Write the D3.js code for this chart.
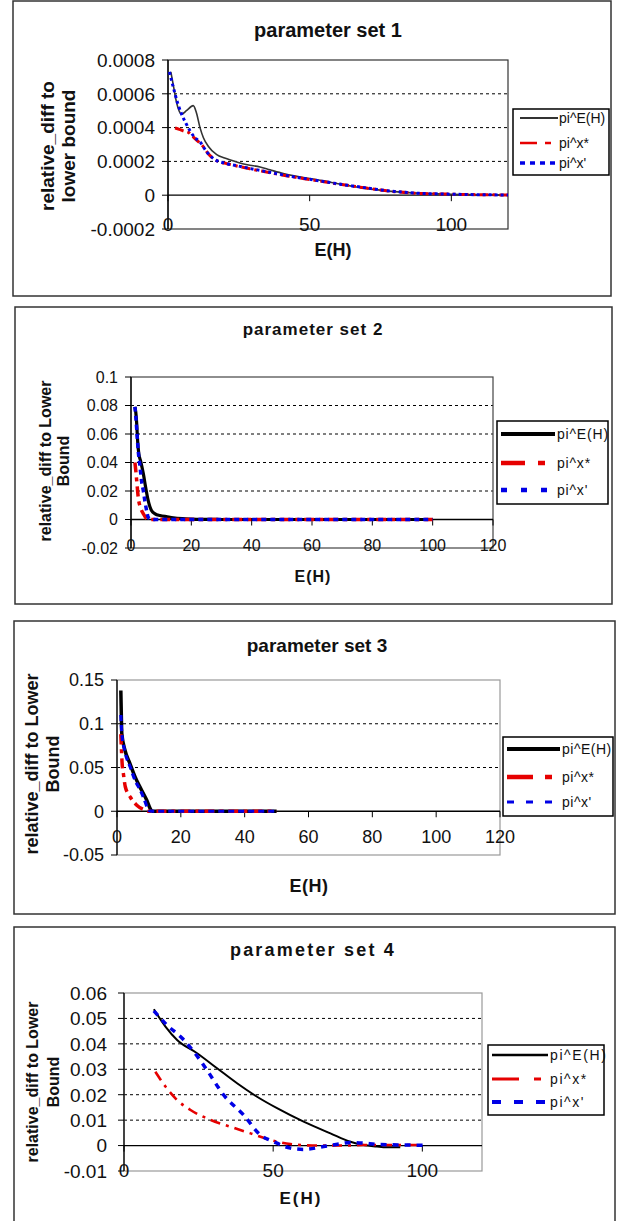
<!DOCTYPE html>
<html><head><meta charset="utf-8">
<script src="https://cdn.jsdelivr.net/npm/d3@7"></script>
<style>
body{margin:0;background:#fff}
svg{display:block}
text{font-family:"Liberation Sans",Arial,sans-serif;fill:#111}
</style>
</head><body>
<svg id="c" width="621" height="1221"></svg>
<script>
// ---------- DATA ----------
const seriesNames = ["pi^E(H)", "pi^x*", "pi^x'"];
const titles = ["parameter set 1", "parameter set 2", "parameter set 3", "parameter set 4"];
const yLabels = [
  ["relative_diff to", "lower bound"],
  ["relative_diff to Lower", "Bound"],
  ["relative_diff to Lower", "Bound"],
  ["relative_diff to Lower", "Bound"]
];
const xLabel = "E(H)";

const p1YTicks = [-0.0002, 0, 0.0002, 0.0004, 0.0006, 0.0008];
const p1YTickLabels = ["-0.0002", "0", "0.0002", "0.0004", "0.0006", "0.0008"];
const p1XTicks = [0, 50, 100];
const p2YTicks = [-0.02, 0, 0.02, 0.04, 0.06, 0.08, 0.1];
const p2YTickLabels = ["-0.02", "0", "0.02", "0.04", "0.06", "0.08", "0.1"];
const p2XTicks = [0, 20, 40, 60, 80, 100, 120];
const p3YTicks = [-0.05, 0, 0.05, 0.1, 0.15];
const p3YTickLabels = ["-0.05", "0", "0.05", "0.1", "0.15"];
const p3XTicks = [0, 20, 40, 60, 80, 100, 120];
const p4YTicks = [-0.01, 0, 0.01, 0.02, 0.03, 0.04, 0.05, 0.06];
const p4YTickLabels = ["-0.01", "0", "0.01", "0.02", "0.03", "0.04", "0.05", "0.06"];
const p4XTicks = [0, 50, 100];

// parameter set 1: [E(H), value]
const p1_piEH = [[1,0.00073],[2,0.00064],[3,0.00055],[4.8,0.00048],[6.5,0.0005],[8.9,0.00053],[10,0.00049],[11.3,0.0004],[12.5,0.00034],[14.2,0.00029],[17.2,0.00024],[20,0.00022],[24.2,0.000197],[28,0.00018],[32.5,0.000167],[36,0.00015],[40.7,0.000128],[45,0.000113],[50,0.000099],[55,0.000085],[59.5,0.000069],[65,0.000053],[70,0.00004],[74.8,0.00003],[80,0.000021],[85,0.000015],[90,0.000011],[95,0.000008],[100,0.000006],[105,0.000004],[110,0.000003],[115,0.000002],[120,0.000001]];
const p1_pixStar = [[2.5,0.000398],[4,0.00039],[5.5,0.00038],[7.2,0.000372],[8.9,0.000345],[10.5,0.00032],[12.5,0.000286],[14,0.00025],[16,0.000217],[18,0.000198],[20.7,0.000187],[25,0.00017],[28.9,0.000156],[33,0.000143],[37,0.00013],[40.7,0.000118],[45,0.000106],[50,0.000093],[55,0.00008],[60,0.000066],[65,0.000054],[70,0.000042],[75,0.000031],[80,0.000021],[85,0.000014],[90,0.00001],[95,0.000008],[100,0.000006],[105,0.000004],[110,0.000003],[115,0.000002],[120,0.000001]];
const p1_pixPrime = [[0.5,0.00073],[2,0.00063],[3.5,0.00054],[4.8,0.00048],[6.5,0.00042],[7.8,0.00038],[9.5,0.00034],[11.3,0.000315],[13.5,0.00026],[16,0.000217],[20.7,0.000187],[25,0.000172],[28.9,0.000158],[33,0.000145],[37,0.000132],[40.7,0.00012],[45,0.000107],[50,0.000094],[55,0.000081],[60,0.000067],[65,0.000055],[70,0.000043],[75,0.000031],[80,0.000022],[85,0.000015],[90,0.00001],[95,0.000008],[100,0.000006],[105,0.000004],[110,0.000003],[115,0.000002],[120,0.000001]];

// parameter set 2
const p2_piEH = [[1.3,0.079],[1.6,0.075],[1.9,0.067],[2.2,0.055],[2.6,0.046],[3.2,0.041],[4.1,0.032],[4.9,0.022],[5.7,0.0133],[6.8,0.0063],[8,0.004],[9.6,0.0028],[12,0.0019],[14,0.0012],[17,0.0006],[20,0.0003],[25,0.0001],[30,0],[40,0],[50,0],[60,0],[70,0],[80,0],[90,0],[100,0]];
const p2_pixStar = [[1.3,0.04],[1.6,0.034],[1.9,0.027],[2.4,0.0156],[3.2,0.008],[4.1,0.004],[5,0.001],[6,0],[10,0],[20,0],[30,0],[40,0],[50,0],[60,0],[70,0],[80,0],[90,0],[100,0]];
const p2_pixPrime = [[1.3,0.079],[1.6,0.072],[1.9,0.063],[2.4,0.048],[3,0.037],[3.5,0.027],[4.1,0.02],[4.6,0.013],[5.2,0.006],[5.7,0.0016],[6.5,0.0003],[8,0],[10,0],[20,0],[30,0],[40,0],[50,0],[60,0],[70,0],[80,0],[90,0],[100,0]];

// parameter set 3
const p3_piEH = [[1.2,0.138],[1.3,0.12],[1.5,0.089],[2.5,0.0697],[4,0.055],[5.7,0.039],[7,0.029],[8.3,0.02],[9.4,0.012],[10.4,0.003],[11,0],[15,0],[20,0],[30,0],[40,0],[50,0]];
const p3_pixStar = [[1.2,0.088],[1.4,0.07],[1.6,0.055],[2,0.043],[2.6,0.028],[4.2,0.016],[6.2,0.0069],[8.3,0.002],[10,0],[15,0],[20,0],[30,0],[40,0],[50,0]];
const p3_pixPrime = [[1.2,0.11],[1.5,0.089],[2.5,0.068],[4.2,0.05],[5.7,0.035],[7.3,0.024],[8.5,0.014],[9.4,0.005],[10.2,0.0005],[12,0],[20,0],[30,0],[40,0],[50,0]];

// parameter set 4
const p4_piEH = [[10,0.0536],[13.9,0.0468],[17.8,0.0415],[24.5,0.0363],[31.2,0.0304],[37.9,0.0245],[44.6,0.0192],[51.3,0.0147],[60.2,0.0094],[69.2,0.0048],[75.9,0.0015],[80,0.0003],[84.8,-0.0004],[88,-0.0007],[92.6,-0.0007]];
const p4_pixStar = [[10.5,0.029],[13.9,0.0232],[17.8,0.0179],[22.3,0.014],[29,0.0101],[35.7,0.0074],[42.4,0.0048],[49.1,0.0022],[55.8,0.0006],[64.7,0],[73.6,0],[80,0.0002],[90,0.0002],[100,0.0002]];
const p4_pixPrime = [[10,0.053],[14.4,0.0474],[19.5,0.0422],[23.4,0.0369],[27.8,0.0297],[33.4,0.0199],[40.1,0.012],[45.7,0.0042],[50.2,0.0015],[55.8,-0.001],[60.2,-0.0015],[66.9,-0.0004],[72,0.0006],[76,0.0012],[80,0.001],[84.8,0.0005],[90,0.0003],[95,0.0002],[100.4,0.0001]];

// ---------- LAYOUT ----------
const panels = [
  {box:[13,1,611,296], plot:[168,60,508,229], xDom:[0,120], yDom:[-0.0002,0.0008],
   xTicks:p1XTicks, yTicks:p1YTicks, yTickLabels:p1YTickLabels,
   series:[p1_piEH,p1_pixStar,p1_pixPrime],
   title:{x:328,y:30,size:20,ls:0}, ylab:{x:[47,68],cy:146,size:19},
   xlab:{x:333,y:250,size:18,ls:0}, tick:{size:19,right:155,xy:224},
   frame:"#333", widths:[1.6,3,3], dash:[null,"9,4,3,4","3,3"], blackCol:"#333",
   legend:{box:[513,109,609,175], ys:[118,143,163], lx:[520,558], tx:559, size:14, ls:0,
     dash:[null,"17,8,6,100","5,5"], widths:[2,2.5,3.5]}},
  {box:[15,307,612,604], plot:[131,377,493,548], xDom:[0,120], yDom:[-0.02,0.1],
   xTicks:p2XTicks, yTicks:p2YTicks, yTickLabels:p2YTickLabels,
   series:[p2_piEH,p2_pixStar,p2_pixPrime],
   title:{x:313,y:329,size:17,ls:1}, ylab:{x:[45,63],cy:461,size:16},
   xlab:{x:313,y:576,size:16,ls:1}, tick:{size:16,right:118,xy:545},
   frame:"#444", widths:[3.2,3.5,3.5], dash:[null,"10,5,4,5","5,4"], blackCol:"#000",
   legend:{box:[497,421,608,504], ys:[434,463,490], lx:[501,555], tx:557, size:14, ls:0.8,
     dash:[null,"24,13,7,100","6,14"], widths:[4,4.5,4.5]}},
  {box:[14,621,615,914], plot:[117,680,500,855], xDom:[0,120], yDom:[-0.05,0.15],
   xTicks:p3XTicks, yTicks:p3YTicks, yTickLabels:p3YTickLabels,
   series:[p3_piEH,p3_pixStar,p3_pixPrime],
   title:{x:317,y:645,size:19,ls:0}, ylab:{x:[32,53],cy:764,size:18},
   xlab:{x:309,y:886,size:18,ls:0.5}, tick:{size:18,right:104,xy:837},
   frame:"#999", widths:[3.5,3.5,3.2], dash:[null,"10,5,4,5","6,4"], blackCol:"#000",
   legend:{box:[503,737,613,816], ys:[749,777,802], lx:[507,560], tx:562, size:14, ls:0.5,
     dash:[null,"26,12,7,100","7,12"], widths:[4,4.5,3]}},
  {box:[14,927,615,1240], plot:[124,993,482,1171], xDom:[0,120], yDom:[-0.01,0.06],
   xTicks:p4XTicks, yTicks:p4YTicks, yTickLabels:p4YTickLabels,
   series:[p4_piEH,p4_pixStar,p4_pixPrime],
   title:{x:313,y:950,size:18,ls:2.2}, ylab:{x:[32,53],cy:1082,size:16},
   xlab:{x:301,y:1198,size:17,ls:2}, tick:{size:19,right:107,xy:1170},
   frame:"#999", widths:[2,2.6,3.5], dash:[null,"10,6,3,6","6,6"], blackCol:"#000",
   legend:{box:[488,1045,604,1115], ys:[1055,1079,1102], lx:[492,548], tx:550, size:14, ls:1.6,
     dash:[null,"27,15,7,100","9,13"], widths:[2.5,3,4]}}
];
const colors = ["#000", "#e60000", "#0000e6"];

const svg = d3.select("#c");

panels.forEach((p, pi) => {
  const g = svg.append("g");
  const [L,T,R,B] = p.plot;
  const x = d3.scaleLinear().domain(p.xDom).range([L,R]);
  const y = d3.scaleLinear().domain(p.yDom).range([B,T]);

  g.append("rect").attr("x",p.box[0]).attr("y",p.box[1])
    .attr("width",p.box[2]-p.box[0]).attr("height",p.box[3]-p.box[1])
    .attr("fill","#fff").attr("stroke","#333").attr("stroke-width",1.5);

  g.selectAll(".grid").data(p.yTicks.filter(v => v !== 0 && v !== p.yDom[0] && v !== p.yDom[1]))
    .enter().append("line")
    .attr("x1",L).attr("x2",R).attr("y1",d=>y(d)).attr("y2",d=>y(d))
    .attr("stroke","#000").attr("stroke-width",1).attr("stroke-dasharray","3,3");

  g.append("rect").attr("x",L).attr("y",T).attr("width",R-L).attr("height",B-T)
    .attr("fill","none").attr("stroke",p.frame).attr("stroke-width",1.2);
  g.append("line").attr("x1",L).attr("x2",L).attr("y1",T).attr("y2",B)
    .attr("stroke","#000").attr("stroke-width",1.3);
  g.append("line").attr("x1",L).attr("x2",R).attr("y1",y(0)).attr("y2",y(0))
    .attr("stroke","#000").attr("stroke-width",1.3);

  g.selectAll(".yt").data(p.yTicks).enter().append("line")
    .attr("x1",L-6).attr("x2",L).attr("y1",d=>y(d)).attr("y2",d=>y(d))
    .attr("stroke","#000").attr("stroke-width",1);
  g.selectAll(".ytl").data(p.yTicks).enter().append("text")
    .attr("x",p.tick.right).attr("y",d=>y(d)).attr("dy","0.36em")
    .attr("text-anchor","end").attr("font-size",p.tick.size)
    .text((d,i)=>p.yTickLabels[i]);

  g.selectAll(".xt").data(p.xTicks).enter().append("line")
    .attr("x1",d=>x(d)).attr("x2",d=>x(d)).attr("y1",y(0)).attr("y2",y(0)+6)
    .attr("stroke","#000").attr("stroke-width",1);
  g.selectAll(".xtl").data(p.xTicks).enter().append("text")
    .attr("x",d=>x(d)).attr("y",p.tick.xy).attr("dy","0.36em")
    .attr("text-anchor","middle").attr("font-size",p.tick.size)
    .text(d=>String(d));

  g.append("text").attr("x",p.title.x).attr("y",p.title.y).attr("dy","0.36em")
    .attr("text-anchor","middle").attr("font-size",p.title.size).attr("font-weight","bold")
    .attr("letter-spacing",p.title.ls).text(titles[pi]);

  yLabels[pi].forEach((line, li) => {
    g.append("text")
      .attr("transform",`translate(${p.ylab.x[li]},${p.ylab.cy}) rotate(-90)`)
      .attr("dy","0.36em").attr("text-anchor","middle")
      .attr("font-size",p.ylab.size).attr("font-weight","bold").text(line);
  });

  g.append("text").attr("x",p.xlab.x).attr("y",p.xlab.y).attr("dy","0.36em")
    .attr("text-anchor","middle").attr("font-size",p.xlab.size).attr("font-weight","bold")
    .attr("letter-spacing",p.xlab.ls).text(xLabel);

  const line = d3.line().x(d=>x(d[0])).y(d=>y(d[1])).curve(d3.curveMonotoneX);
  [0,1,2].forEach(si => {
    g.append("path").datum(p.series[si]).attr("d",line)
      .attr("fill","none")
      .attr("stroke", si===0 ? p.blackCol : colors[si])
      .attr("stroke-width",p.widths[si])
      .attr("stroke-dasharray",p.dash[si])
      .attr("stroke-linejoin","round");
  });

  const lg = p.legend;
  g.append("rect").attr("x",lg.box[0]).attr("y",lg.box[1])
    .attr("width",lg.box[2]-lg.box[0]).attr("height",lg.box[3]-lg.box[1])
    .attr("fill","#fff").attr("stroke","#000").attr("stroke-width",1.5);
  seriesNames.forEach((nm, si) => {
    g.append("line").attr("x1",lg.lx[0]).attr("x2",lg.lx[1])
      .attr("y1",lg.ys[si]).attr("y2",lg.ys[si])
      .attr("stroke", si===0 ? p.blackCol : colors[si])
      .attr("stroke-width",lg.widths[si])
      .attr("stroke-dasharray",lg.dash[si]);
    g.append("text").attr("x",lg.tx).attr("y",lg.ys[si]).attr("dy","0.36em")
      .attr("font-size",lg.size).attr("letter-spacing",lg.ls).text(nm);
  });
});
</script>
</body></html>
